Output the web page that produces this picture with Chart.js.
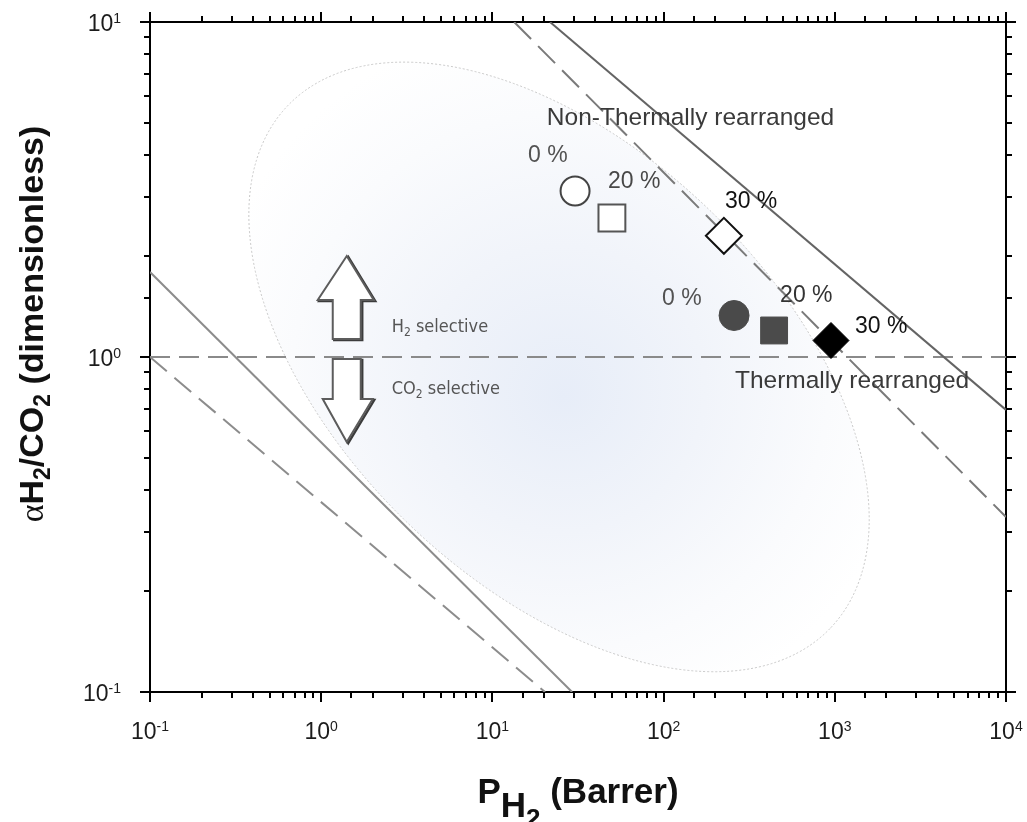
<!DOCTYPE html>
<html>
<head>
<meta charset="utf-8">
<script src="https://cdn.jsdelivr.net/npm/chart.js@4.4.1/dist/chart.umd.min.js"></script>
<style>
html,body{margin:0;padding:0;background:#fff;}
#wrap{width:1027px;height:822px;position:relative;}
</style>
</head>
<body>
<div id="wrap"><canvas id="c" width="1027" height="822"></canvas></div>
<script>
// ---------------- data ----------------
const loadings = ['0 %', '20 %', '30 %'];
const nonTR_P = [30.4, 49.9, 225];          // H2 permeability, Barrer
const nonTR_alpha = [3.13, 2.60, 2.30];     // H2/CO2 selectivity
const TR_P = [258, 442, 950];
const TR_alpha = [1.33, 1.20, 1.12];

const upperSolid_P = [21.7, 10000];
const upperSolid_alpha = [10, 0.695];
const upperDashed_P = [13.4, 10000];
const upperDashed_alpha = [10, 0.333];
const lowerSolid_P = [0.1, 29.2];
const lowerSolid_alpha = [1.794, 0.1];
const lowerDashed_P = [0.1, 20.3];
const lowerDashed_alpha = [1.0, 0.1];
const unity_P = [0.1, 10000];
const unity_alpha = [1, 1];

const xRange = [0.1, 10000];
const yRange = [0.1, 10];
const xTickExponents = [-1, 0, 1, 2, 3, 4];
const yTickExponents = [-1, 0, 1];

// ---------------- styling / annotation config ----------------
const SANS = '"Liberation Sans", Arial, "DejaVu Sans", sans-serif';
const NARROW = '"Liberation Sans Narrow", "DejaVu Sans Condensed", "Liberation Sans", Arial, sans-serif';
const regionLabels = [
  { text: 'Non-Thermally rearranged', at: [20.8, 4.93] },
  { text: 'Thermally rearranged', at: [261, 0.808] }
];
const pctOffsets = { nonTR: [[-47, -29], [-4, -30], [1, -28]], TR: [[-72, -11], [6, -28], [24, -8]] };
const pctColors = { nonTR: ['#525252', '#484848', '#111111'], TR: ['#525252', '#333333', '#111111'] };
const arrowAnchor = [1.41, 1.0];
const ellipseCfg = { center: [24.5, 0.934], semiDecades: [2.2, 1.27], angleDeg: 44 };

function decadeExp(v) { const e = Math.log10(v); const r = Math.round(e); return Math.abs(e - r) < 1e-6 ? r : null; }
const zip = (xs, ys) => xs.map((x, i) => ({ x: x, y: ys[i] }));
const lineDS = (P, A, color, dash) => ({
  data: zip(P, A), showLine: true, borderColor: color, borderWidth: 2,
  borderDash: dash || [], pointRadius: 0, pointHoverRadius: 0, fill: false, tension: 0, order: 2
});

function drawRich(ctx, segs, x, y, align) {
  let total = 0;
  segs.forEach(s => { ctx.font = s.font; s.w = ctx.measureText(s.t).width; total += s.w; });
  let cx = align === 'center' ? x - total / 2 : (align === 'right' ? x - total : x);
  ctx.textAlign = 'left';
  ctx.textBaseline = 'alphabetic';
  segs.forEach(s => {
    ctx.font = s.font;
    if (s.color) ctx.fillStyle = s.color;
    ctx.fillText(s.t, cx, y + (s.dy || 0));
    cx += s.w;
  });
}

// ---------------- plugins ----------------
const ellipsePlugin = {
  id: 'ellipseRegion',
  beforeDatasetsDraw(chart) {
    const ctx = chart.ctx, xs = chart.scales.x, ys = chart.scales.y;
    const cx = xs.getPixelForValue(ellipseCfg.center[0]);
    const cy = ys.getPixelForValue(ellipseCfg.center[1]);
    const dec = xs.getPixelForValue(10) - xs.getPixelForValue(1);
    const a = ellipseCfg.semiDecades[0] * dec, b = ellipseCfg.semiDecades[1] * dec;
    ctx.save();
    ctx.beginPath();
    ctx.ellipse(cx, cy, a, b, ellipseCfg.angleDeg * Math.PI / 180, 0, Math.PI * 2);
    const g = ctx.createRadialGradient(cx + 5, cy + 30, 0, cx, cy + 10, a * 0.95);
    g.addColorStop(0, 'rgb(231,237,248)');
    g.addColorStop(0.4, 'rgb(241,244,250)');
    g.addColorStop(0.75, 'rgb(250,251,253)');
    g.addColorStop(1, 'rgb(255,255,255)');
    ctx.fillStyle = g;
    ctx.fill();
    ctx.setLineDash([2, 2]);
    ctx.strokeStyle = '#c8c8c8';
    ctx.lineWidth = 1;
    ctx.stroke();
    ctx.restore();
  }
};

const annotPlugin = {
  id: 'annotations',
  afterDatasetsDraw(chart) {
    const ctx = chart.ctx, xs = chart.scales.x, ys = chart.scales.y;
    ctx.save();
    // percent labels
    ctx.font = '23px ' + SANS;
    ctx.textAlign = 'left';
    ctx.textBaseline = 'alphabetic';
    [['nonTR', nonTR_P, nonTR_alpha], ['TR', TR_P, TR_alpha]].forEach(([k, P, A]) => {
      P.forEach((p, i) => {
        const px = xs.getPixelForValue(p), py = ys.getPixelForValue(A[i]);
        ctx.fillStyle = pctColors[k][i];
        ctx.fillText(loadings[i], px + pctOffsets[k][i][0], py + pctOffsets[k][i][1]);
      });
    });
    // region labels
    ctx.font = '24.5px ' + SANS;
    ctx.fillStyle = '#3a3a3a';
    regionLabels.forEach(r => {
      ctx.fillText(r.text, xs.getPixelForValue(r.at[0]), ys.getPixelForValue(r.at[1]));
    });
    // block arrows
    const ax = xs.getPixelForValue(arrowAnchor[0]), ay = ys.getPixelForValue(arrowAnchor[1]);
    const up = [[0,-101],[27,-57],[14,-57],[14,-18],[-14,-18],[-14,-57],[-29,-57]];
    const down = [[-14,2],[14,2],[14,42],[26,42],[0,85],[-24,42],[-14,42]];
    const pathOf = (pts, ox, oy) => {
      ctx.beginPath();
      pts.forEach((p, i) => i ? ctx.lineTo(ax + p[0] + ox, ay + p[1] + oy) : ctx.moveTo(ax + p[0] + ox, ay + p[1] + oy));
      ctx.closePath();
    };
    [up, down].forEach(pts => {
      ctx.lineJoin = 'miter';
      pathOf(pts, 1.5, 1);
      ctx.strokeStyle = '#3c3c3c'; ctx.lineWidth = 2.4; ctx.stroke();
      pathOf(pts, 0, 0);
      ctx.fillStyle = '#ffffff'; ctx.fill();
      ctx.strokeStyle = '#5c5c5c'; ctx.lineWidth = 2; ctx.stroke();
    });
    // selective labels
    drawRich(ctx, [
      { t: 'H', font: '18px ' + NARROW, color: '#555555' },
      { t: '2', font: '12px ' + NARROW, dy: 4 },
      { t: ' selective', font: '18px ' + NARROW }
    ], ax + 45, ay - 25, 'left');
    drawRich(ctx, [
      { t: 'CO', font: '18px ' + NARROW, color: '#555555' },
      { t: '2', font: '12px ' + NARROW, dy: 4 },
      { t: ' selective', font: '18px ' + NARROW }
    ], ax + 45, ay + 37, 'left');
    ctx.restore();
  }
};

const framePlugin = {
  id: 'frameTicks',
  afterDraw(chart) {
    const ctx = chart.ctx, xs = chart.scales.x, ys = chart.scales.y;
    const { left, right, top, bottom } = chart.chartArea;
    ctx.save();
    ctx.strokeStyle = '#000';
    ctx.lineWidth = 2;
    ctx.setLineDash([]);
    const seg = (x1, y1, x2, y2) => { ctx.beginPath(); ctx.moveTo(x1, y1); ctx.lineTo(x2, y2); ctx.stroke(); };
    xs.ticks.forEach(t => {
      const px = Math.round(xs.getPixelForValue(t.value));
      const L = decadeExp(t.value) !== null ? 10 : 6;
      seg(px, bottom, px, bottom + L);
      seg(px, top, px, top - L);
    });
    ys.ticks.forEach(t => {
      const py = Math.round(ys.getPixelForValue(t.value));
      const L = decadeExp(t.value) !== null ? 10 : 6;
      seg(left, py, left - L, py);
      seg(right, py, right + L, py);
    });
    // decade tick labels (10 with superscript exponent)
    ctx.fillStyle = '#1c1c1c';
    xs.ticks.forEach(t => {
      const e = decadeExp(t.value);
      if (e === null || xTickExponents.indexOf(e) < 0) return;
      drawRich(ctx, [
        { t: '10', font: '23px ' + SANS },
        { t: String(e), font: '14px ' + SANS, dy: -8 }
      ], xs.getPixelForValue(t.value), bottom + 47, 'center');
    });
    ys.ticks.forEach(t => {
      const e = decadeExp(t.value);
      if (e === null || yTickExponents.indexOf(e) < 0) return;
      drawRich(ctx, [
        { t: '10', font: '23px ' + SANS },
        { t: String(e), font: '14px ' + SANS, dy: -8 }
      ], left - 29, ys.getPixelForValue(t.value) + 9, 'right');
    });
    // axis titles
    ctx.fillStyle = '#111';
    drawRich(ctx, [
      { t: 'P', font: 'bold 35px ' + SANS },
      { t: 'H', font: 'bold 35px ' + SANS, dy: 14 },
      { t: '2', font: 'bold 26px ' + SANS, dy: 24 },
      { t: ' (Barrer)', font: 'bold 35px ' + SANS }
    ], (left + right) / 2, 803, 'center');
    ctx.save();
    ctx.translate(43, 324);
    ctx.rotate(-Math.PI / 2);
    drawRich(ctx, [
      { t: 'α', font: '34px "Liberation Serif", "DejaVu Serif", serif' },
      { t: 'H', font: 'bold 34px ' + SANS },
      { t: '2', font: 'bold 23px ' + SANS, dy: 7 },
      { t: '/CO', font: 'bold 34px ' + SANS },
      { t: '2', font: 'bold 23px ' + SANS, dy: 7 },
      { t: ' (dimensionless)', font: 'bold 34px ' + SANS }
    ], 0, 0, 'center');
    ctx.restore();
    ctx.restore();
  }
};

// ---------------- chart ----------------
const zeroPad = s => { s.paddingLeft = 0; s.paddingRight = 0; s.paddingTop = 0; s.paddingBottom = 0; };
const axisBase = (range) => ({
  type: 'logarithmic', min: range[0], max: range[1],
  grid: { display: false, drawOnChartArea: false, drawTicks: false },
  border: { display: true, color: '#000', width: 2 },
  ticks: { display: false, autoSkip: false }
});
const xAxis = axisBase(xRange);
xAxis.position = 'bottom';
xAxis.afterFit = s => { s.height = 130; zeroPad(s); };
const yAxis = axisBase(yRange);
yAxis.position = 'left';
yAxis.afterFit = s => { s.width = 150; zeroPad(s); };
const x2Axis = axisBase(xRange);
x2Axis.position = 'top';
x2Axis.afterFit = s => { s.height = 0; zeroPad(s); };
const y2Axis = axisBase(yRange);
y2Axis.position = 'right';
y2Axis.afterFit = s => { s.width = 0; zeroPad(s); };

new Chart(document.getElementById('c'), {
  type: 'scatter',
  data: {
    datasets: [
      {
        label: 'Non-thermally rearranged',
        data: zip(nonTR_P, nonTR_alpha),
        pointStyle: ['circle', 'rect', 'rectRot'],
        pointRadius: [14.5, 19, 18],
        pointHoverRadius: [14.5, 19, 18],
        pointBackgroundColor: '#ffffff',
        pointBorderColor: ['#444444', '#555555', '#111111'],
        pointBorderWidth: 2,
        order: 0, clip: false
      },
      {
        label: 'Thermally rearranged',
        data: zip(TR_P, TR_alpha),
        pointStyle: ['circle', 'rect', 'rectRot'],
        pointRadius: [15, 19, 18],
        pointHoverRadius: [15, 19, 18],
        pointBackgroundColor: ['#4a4a4a', '#4b4b4b', '#000000'],
        pointBorderColor: ['#4a4a4a', '#4b4b4b', '#000000'],
        pointBorderWidth: 1,
        order: 0, clip: false
      },
      lineDS(upperSolid_P, upperSolid_alpha, '#646464'),
      lineDS(upperDashed_P, upperDashed_alpha, '#7a7a7a', [24, 10]),
      lineDS(lowerSolid_P, lowerSolid_alpha, '#8c8c8c'),
      lineDS(lowerDashed_P, lowerDashed_alpha, '#8c8c8c', [22, 10]),
      lineDS(unity_P, unity_alpha, '#8a8a8a', [20, 9])
    ]
  },
  options: {
    responsive: false,
    devicePixelRatio: 1,
    animation: false,
    events: [],
    layout: { padding: { top: 22, right: 21, bottom: 0, left: 0 } },
    plugins: { legend: { display: false }, tooltip: { enabled: false }, title: { display: false } },
    scales: { x: xAxis, y: yAxis, x2: x2Axis, y2: y2Axis }
  },
  plugins: [ellipsePlugin, annotPlugin, framePlugin]
});
</script>
</body>
</html>
